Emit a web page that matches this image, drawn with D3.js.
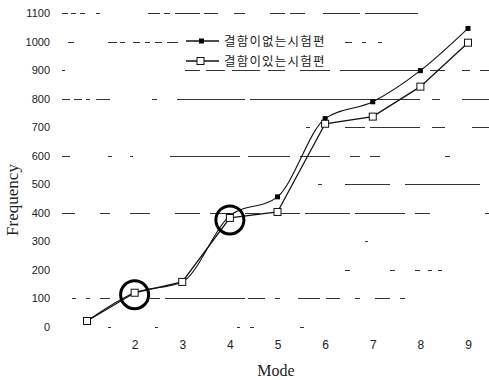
<!DOCTYPE html>
<html>
<head>
<meta charset="utf-8">
<script src="https://cdn.jsdelivr.net/npm/d3@7"></script>
<style>
  body { margin: 0; background: #fff; }
  svg { display: block; }
</style>
</head>
<body>
<div id="chart"></div>
<script>
// data
const modes = [1, 2, 3, 4, 5, 6, 7, 8, 9];
const noDefect = [21, 120, 158, 390, 456, 730, 789, 898, 1046];   // 결함이 없는 시험편 (filled)
const withDefect = [21, 120, 158, 382, 403, 712, 737, 842, 996];  // 결함이 있는 시험편 (open)
const yTicks = [0, 100, 200, 300, 400, 500, 600, 700, 800, 900, 1000, 1100];
const xTicks = [2, 3, 4, 5, 6, 7, 8, 9];
const seriesNames = ["결함이없는시험편", "결함이있는시험편"];
const circled = [2, 4]; // highlighted modes

const w = 489, h = 380;

const svg = d3.select("#chart")
  .append("svg")
  .attr("width", w)
  .attr("height", h);

const x = d3.scaleLinear()
  .domain([1, 9])
  .range([87, 468]);

const y = d3.scaleLinear()
  .domain([0, 1100])
  .range([327, 13]);

// the scanned gridlines are broken up, so each one gets its own dash runs (px along the line)
const gridRuns = {
  1100: [[62,68],[71,76],[80,85],[96,100],[148,160],[164,170],[175,200],[204,218],[234,245],[270,285],[290,305],[323,360],[365,418]],
  1000: [[68,74],[108,117],[120,125],[133,140],[145,150],[155,162],[167,178],[345,352],[362,366],[378,382]],
  900: [[62,65],[185,200],[206,225],[232,260],[268,285],[300,330],[340,420],[430,445],[462,470],[480,489]],
  800: [[62,70],[74,82],[86,90],[96,110],[152,157],[177,245],[250,420],[432,440],[462,489]],
  700: [[306,310],[345,365],[370,420],[432,445],[472,489]],
  600: [[62,70],[108,112],[130,133],[170,240],[248,290],[300,330],[350,360],[370,380],[445,450]],
  500: [[318,322],[345,390],[405,480]],
  400: [[62,75],[100,110],[130,150],[175,200],[210,230],[245,260],[275,300],[305,350],[355,405],[415,430],[485,489]],
  300: [[365,368]],
  200: [[345,350],[390,395],[415,420],[428,432],[438,442]],
  100: [[72,76],[86,90],[100,110],[150,160],[165,245],[248,265],[275,280],[298,320],[326,340],[355,360],[375,390],[400,405]],
  0: [[108,111],[155,158],[237,240],[250,254],[300,304]]
};

const grid = svg.append("g")
  .attr("stroke", "#333")
  .attr("stroke-width", 1);

yTicks.forEach(t => {
  const yy = Math.round(y(t)) + 0.5;
  grid.append("g")
    .selectAll("line")
    .data(gridRuns[t])
    .join("line")
    .attr("x1", d => d[0])
    .attr("x2", d => d[1])
    .attr("y1", yy)
    .attr("y2", yy);
});

// y axis ticks
svg.append("g")
  .attr("transform", `translate(50,0)`)
  .call(d3.axisLeft(y).tickValues(yTicks).tickFormat(d3.format("d")).tickSize(0).tickPadding(0))
  .call(g => g.select(".domain").remove())
  .selectAll("text")
  .attr("font-family", "Liberation Sans, sans-serif")
  .attr("font-size", 11)
  .attr("fill", "#222");

// x axis ticks
svg.append("g")
  .attr("transform", `translate(0,340)`)
  .call(d3.axisBottom(x).tickValues(xTicks).tickSize(0).tickPadding(0))
  .call(g => g.select(".domain").remove())
  .selectAll("text")
  .attr("font-family", "Liberation Sans, sans-serif")
  .attr("font-size", 12)
  .attr("fill", "#222");

svg.append("text")
  .attr("x", 276)
  .attr("y", 376)
  .attr("text-anchor", "middle")
  .attr("font-family", "Liberation Serif, serif")
  .attr("font-size", 16)
  .attr("fill", "#222")
  .text("Mode");

svg.append("text")
  .attr("transform", "translate(18,200) rotate(-90)")
  .attr("text-anchor", "middle")
  .attr("font-family", "Liberation Serif, serif")
  .attr("font-size", 17)
  .attr("fill", "#222")
  .text("Frequency");

// lines
const lineSmooth = d3.line()
  .x((d, i) => x(modes[i]))
  .y(d => y(d))
  .curve(d3.curveMonotoneX);

const lineStraight = d3.line()
  .x((d, i) => x(modes[i]))
  .y(d => y(d));

svg.append("path")
  .datum(noDefect)
  .attr("d", lineSmooth)
  .attr("fill", "none")
  .attr("stroke", "#111")
  .attr("stroke-width", 1.1);

svg.append("path")
  .datum(withDefect)
  .attr("d", lineStraight)
  .attr("fill", "none")
  .attr("stroke", "#111")
  .attr("stroke-width", 1.3);

// markers
svg.append("g")
  .selectAll("rect")
  .data(noDefect)
  .join("rect")
  .attr("x", (d, i) => x(modes[i]) - 2.5)
  .attr("y", d => y(d) - 2.5)
  .attr("width", 5)
  .attr("height", 5)
  .attr("fill", "#000");

svg.append("g")
  .selectAll("rect")
  .data(withDefect)
  .join("rect")
  .attr("x", (d, i) => x(modes[i]) - 3.5)
  .attr("y", d => y(d) - 3.5)
  .attr("width", 7)
  .attr("height", 7)
  .attr("fill", "#fff")
  .attr("stroke", "#111")
  .attr("stroke-width", 1);

// highlight circles
svg.append("g")
  .selectAll("circle")
  .data(circled)
  .join("circle")
  .attr("cx", d => x(d))
  .attr("cy", d => y(withDefect[modes.indexOf(d)]) + 2)
  .attr("r", 14)
  .attr("fill", "none")
  .attr("stroke", "#000")
  .attr("stroke-width", 3);

// legend
const legend = svg.append("g")
  .attr("font-family", "Noto Sans CJK KR, sans-serif")
  .attr("font-size", 12.5)
  .attr("fill", "#222");

seriesNames.forEach((name, i) => {
  const yy = 41 + i * 20;
  const g = legend.append("g").attr("transform", `translate(0,${yy})`);
  g.append("line")
    .attr("x1", 186).attr("x2", 219)
    .attr("stroke", "#111").attr("stroke-width", 1.3);
  if (i === 0) {
    g.append("rect").attr("x", 199).attr("y", -2.5).attr("width", 5).attr("height", 5).attr("fill", "#000");
  } else {
    g.append("rect").attr("x", 197).attr("y", -3.5).attr("width", 7).attr("height", 7)
      .attr("fill", "#fff").attr("stroke", "#111");
  }
  g.append("text")
    .attr("x", 224)
    .attr("y", 4.5)
    .attr("letter-spacing", 1.2)
    .text(name);
});
</script>
</body>
</html>
